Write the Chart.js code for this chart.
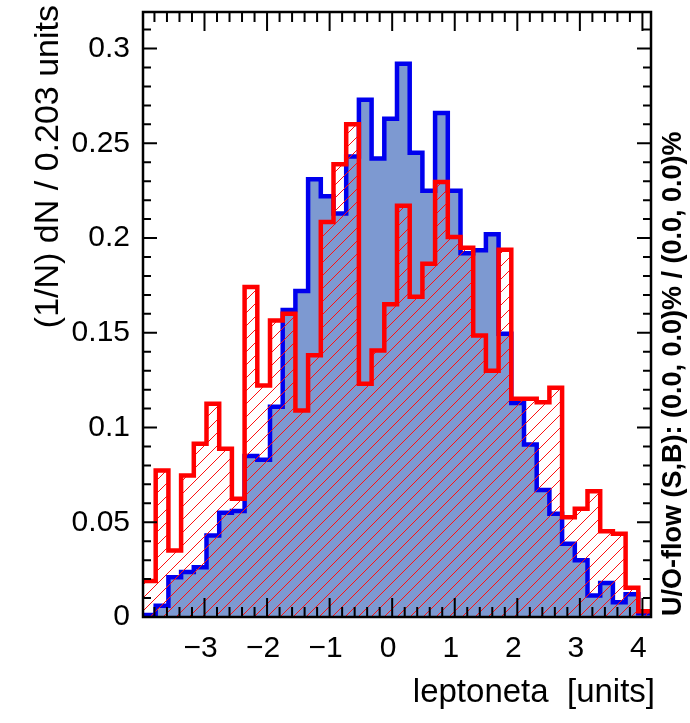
<!DOCTYPE html>
<html>
<head>
<meta charset="utf-8">
<script src="https://cdn.jsdelivr.net/npm/chart.js@4.4.0/dist/chart.umd.min.js"></script>
<style>
  html, body { margin: 0; padding: 0; background: #fff; }
  #wrap { width: 690px; height: 723px; }
</style>
</head>
<body>
<div id="wrap"><canvas id="histChart" width="690" height="723"></canvas></div>
<script>
// Binning: 40 bins of 0.203 units
const xMin = -3.983;
const binWidth = 0.203;
const nBins = 40;
const xMax = xMin + nBins * binWidth;
const yMax = 0.3193;

// (1/N) dN per bin
const signal = [
  0.001, 0.006, 0.021, 0.0237, 0.0263, 0.043, 0.055, 0.056, 0.085, 0.083,
  0.111, 0.162, 0.172, 0.231, 0.222, 0.213, 0.243, 0.273, 0.242, 0.263,
  0.292, 0.245, 0.225, 0.266, 0.225, 0.192, 0.1935, 0.202, 0.1495, 0.113,
  0.091, 0.067, 0.0545, 0.0386, 0.030, 0.0114, 0.018, 0.0078, 0.012, 0.002
];
const background = [
  0.019, 0.0773, 0.0351, 0.0747, 0.0914, 0.1126, 0.0888, 0.0624, 0.1741, 0.1222,
  0.1565, 0.160, 0.109, 0.1381, 0.2085, 0.239, 0.260, 0.1231, 0.1407, 0.165,
  0.217, 0.169, 0.1865, 0.2296, 0.2005, 0.1949, 0.1486, 0.130, 0.1938, 0.1152,
  0.1152, 0.1134, 0.121, 0.0527, 0.0571, 0.0664, 0.0453, 0.0439, 0.0154, 0.003
];

// Axis labels
const xTicks = [-3, -2, -1, 0, 1, 2, 3, 4];
const yTicks = [0, 0.05, 0.1, 0.15, 0.2, 0.25, 0.3];
const xTitle = "leptoneta  [units]";
const yTitle = "(1/N) dN / 0.203 units";
const flowText = "U/O-flow (S,B): (0.0, 0.0)% / (0.0, 0.0)%";

const FONT = "'Liberation Sans', Arial, Helvetica, sans-serif";

// step outline points: value held from bin's left edge to next edge
function toSteps(values) {
  const pts = values.map((v, i) => ({ x: xMin + i * binWidth, y: v }));
  pts.push({ x: xMax, y: values[values.length - 1] });
  return pts;
}

// red "/" hatch like ROOT fill style 3554
function makeHatch() {
  const s = 13;
  const c = document.createElement("canvas");
  c.width = s; c.height = s;
  const g = c.getContext("2d");
  g.strokeStyle = "#ff1010";
  g.lineWidth = 1;
  g.beginPath();
  g.moveTo(0, s); g.lineTo(s, 0);
  g.moveTo(-s / 2, s / 2); g.lineTo(s / 2, -s / 2);
  g.moveTo(s / 2, s * 1.5); g.lineTo(s * 1.5, s / 2);
  g.stroke();
  return g.createPattern(c, "repeat");
}

// frame, inward ticks and texts in the ROOT look
const rootFrame = {
  id: "rootFrame",
  afterDraw(chart) {
    const { ctx, chartArea: a, scales: { x, y } } = chart;
    ctx.save();
    ctx.strokeStyle = "#000";
    ctx.lineWidth = 2;
    ctx.beginPath();
    for (let i = Math.ceil(xMin * 5); i <= Math.floor(xMax * 5); i++) {
      const px = x.getPixelForValue(i / 5);
      const len = i % 5 === 0 ? 19 : 10;
      ctx.moveTo(px, a.bottom); ctx.lineTo(px, a.bottom - len);
      ctx.moveTo(px, a.top); ctx.lineTo(px, a.top + len);
    }
    for (let i = 0; i <= Math.floor(yMax * 100); i++) {
      const py = y.getPixelForValue(i / 100);
      const len = i % 5 === 0 ? 14 : 8;
      ctx.moveTo(a.left, py); ctx.lineTo(a.left + len, py);
      ctx.moveTo(a.right, py); ctx.lineTo(a.right - len, py);
    }
    ctx.stroke();
    ctx.lineWidth = 2.5;
    ctx.strokeRect(a.left, a.top, a.right - a.left, a.bottom - a.top);

    ctx.fillStyle = "#000";
    ctx.textBaseline = "alphabetic";
    ctx.font = "33px " + FONT;
    ctx.textAlign = "right";
    ctx.fillText(xTitle, 655, 702);

    ctx.save();
    ctx.translate(58, 5);
    ctx.rotate(-Math.PI / 2);
    ctx.font = "34px " + FONT;
    ctx.textAlign = "right";
    ctx.fillText(yTitle, 0, 0);
    ctx.restore();

    ctx.save();
    ctx.translate(681, 616);
    ctx.rotate(-Math.PI / 2);
    ctx.textAlign = "left";
    ctx.font = "bold 27px " + FONT;
    ctx.fillText(flowText, 0, 0);
    ctx.restore();
    ctx.restore();
  }
};

const ctx = document.getElementById("histChart").getContext("2d");
new Chart(ctx, {
  type: "line",
  data: {
    datasets: [
      {
        label: "Background",
        data: toSteps(background),
        stepped: true,
        borderColor: "#ff0000",
        borderWidth: 4.5,
        backgroundColor: makeHatch(),
        fill: "origin",
        pointRadius: 0,
        clip: 0
      },
      {
        label: "Signal",
        data: toSteps(signal),
        stepped: true,
        borderColor: "#0000ee",
        borderWidth: 4.5,
        backgroundColor: "#7d99d1",
        fill: "origin",
        pointRadius: 0,
        clip: 0
      }
    ]
  },
  options: {
    responsive: false,
    animation: false,
    events: [],
    layout: { padding: { left: 0, right: 39, top: 12, bottom: 0 } },
    plugins: { legend: { display: false }, tooltip: { enabled: false } },
    scales: {
      x: {
        type: "linear",
        min: xMin,
        max: xMax,
        grid: { display: false, drawTicks: false },
        border: { display: false },
        afterBuildTicks: (s) => { s.ticks = xTicks.map(v => ({ value: v })); },
        afterFit: (s) => {
          s.height = 106;
          s.paddingLeft = 0; s.paddingRight = 0;
          s.paddingTop = 0; s.paddingBottom = 0;
        },
        ticks: {
          color: "#000",
          font: { family: FONT, size: 30 },
          padding: 14,
          labelOffset: -4,
          maxRotation: 0,
          autoSkip: false,
          callback: (v) => (v < 0 ? "\u2212" + Math.abs(v) : String(v))
        }
      },
      y: {
        min: 0,
        max: yMax,
        grid: { display: false, drawTicks: false },
        border: { display: false },
        afterBuildTicks: (s) => { s.ticks = yTicks.map(v => ({ value: v })); },
        afterFit: (s) => {
          s.width = 143;
          s.paddingLeft = 0; s.paddingRight = 0;
          s.paddingTop = 0; s.paddingBottom = 0;
        },
        ticks: {
          color: "#000",
          font: { family: FONT, size: 30 },
          padding: 13,
          autoSkip: false,
          callback: (v) => String(v)
        }
      }
    }
  },
  plugins: [rootFrame]
});
</script>
</body>
</html>
